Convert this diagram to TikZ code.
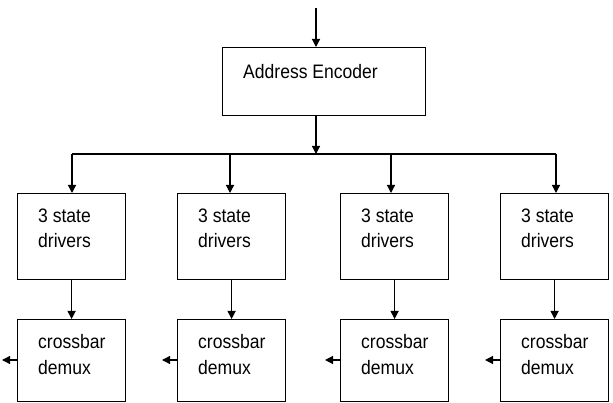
\documentclass[tikz,border=0pt]{standalone}
\usepackage{fontspec}
\setmainfont{Liberation Sans}
\newfontfamily\lblfont[FakeStretch=0.9]{Liberation Sans}
\usetikzlibrary{arrows.meta}
\begin{document}
\begin{tikzpicture}[x=1pt,y=-1pt,
  box/.style={draw,line width=1.2pt,inner sep=0pt,anchor=north west},
  lbl/.style={inner sep=0pt,anchor=base west,align=left,font=\lblfont\fontsize{19.5}{25.5}\selectfont},
  arr/.style={line width=1.2pt,-{Triangle[length=8pt,width=8pt]}},
  ln/.style={line width=1.2pt}]
\useasboundingbox (0,0) rectangle (613,403);
% encoder
\node[box,minimum width=203pt,minimum height=68pt] (enc) at (222,47) {};
\node[lbl] (enct) at (243,79) {Address Encoder};
\coordinate (in) at (316,8);
\coordinate (encin) at (316,47);
\coordinate (encout) at (316,115);
\coordinate (busm) at (316,154);
\draw[arr] (in) -- (encin);
\draw[arr] (encout) -- (busm);
% bus
\coordinate (b1) at (72,154);
\coordinate (b4) at (556,154);
\draw[ln] (b1) -- (b4);
% columns
\foreach \i/\xl/\xa in {1/17/72,2/177/230,3/340/391,4/500/556}{
  \node[box,minimum width=108pt,minimum height=86pt] (d\i) at (\xl,193) {};
  \node[box,minimum width=108pt,minimum height=82pt] (c\i) at (\xl,319) {};
  \node[lbl] (dt\i) at (\xl+21,248) {3 state\\drivers};
  \node[lbl] (ct\i) at (\xl+21,374) {crossbar\\demux};
  \coordinate (bt\i) at (\xa,154);
  \draw[arr] (bt\i) -- (\xa,193);
  \draw[arr] (d\i.south) -- (c\i.north);
  \coordinate (o\i) at (\xl-15,360);
  \draw[arr] (\xl,360) -- (o\i);
}
\end{tikzpicture}
\end{document}
